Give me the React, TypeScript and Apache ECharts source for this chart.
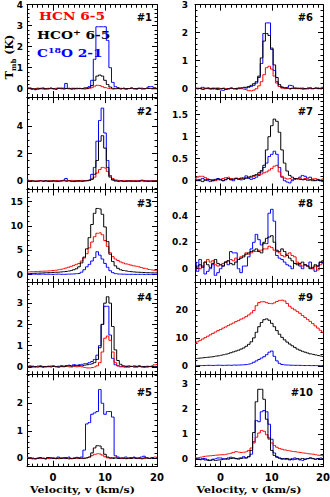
import React, { useEffect, useRef } from "react";
import * as echarts from "echarts";

// ---------------- data ----------------
const VELOCITY = [
  -5, -4.5, -4, -3.5, -3, -2.5, -2, -1.5, -1, -0.5,
  0, 0.5, 1, 1.5, 2, 2.5, 3, 3.5, 4, 4.5,
  5, 5.5, 6, 6.5, 7, 7.5, 8, 8.5, 9, 9.5,
  10, 10.5, 11, 11.5, 12, 12.5, 13, 13.5, 14, 14.5,
  15, 15.5, 16, 16.5, 17, 17.5, 18, 18.5, 19, 19.5,
  20,
];

const P1_HCN = [0.02,0.0,-0.02,0.01,0.03,0.0,-0.02,0.01,0.02,0.0, -0.01,0.02,0.03,0.0,-0.02,0.01,0.0,0.02,-0.01,0.0, 0.01,0.0,-0.02,0.0,0.02,0.05,0.12,0.16,0.15,0.1, 0.05,0.02,0.0,-0.02,0.01,0.0,0.02,0.0,-0.01,0.01, 0.02,0.0,-0.02,0.01,0.03,0.0,0.01,0.02,0.0,-0.01, 0.0];
const P1_HCO = [0.0,0.03,0.01,-0.02,0.0,0.02,0.03,0.0,-0.01,0.02, 0.0,-0.02,0.01,0.03,0.0,0.01,0.02,-0.01,0.0,0.02, 0.0,0.01,0.03,0.02,0.05,0.15,0.4,0.6,0.65,0.6, 0.4,0.2,0.08,0.02,0.0,0.01,-0.01,0.02,0.0,0.01, 0.03,0.0,0.01,0.02,-0.01,0.0,0.02,0.01,0.0,0.02, 0.01];
const P1_C18O = [0.05,0.02,-0.03,-0.05,-0.03,0.0,0.02,-0.02,0.0,0.03, 0.0,-0.03,0.02,0.0,0.03,0.25,0.0,-0.02,0.02,0.0, 0.02,0.0,0.03,0.05,0.1,0.4,1.4,2.95,2.95,2.95, 2.95,2.3,1.0,0.3,0.1,0.05,0.0,0.02,-0.02,0.0, 0.03,0.0,-0.02,0.02,0.0,0.0,0.03,0.1,0.1,0.05, 0.0];

const P2_HCN = [0.1,0.05,0.02,0.0,0.03,0.05,0.02,0.0,0.03,0.05, 0.03,0.05,0.02,0.04,0.05,0.03,0.05,0.06,0.04,0.05, 0.05,0.06,0.05,0.06,0.08,0.15,0.3,0.6,0.85,1.0, 0.95,0.7,0.4,0.2,0.1,0.06,0.04,0.05,0.03,0.04, 0.05,0.03,0.04,0.02,0.05,0.03,0.04,0.02,0.03,0.04, 0.03];
const P2_HCO = [0.02,0.0,0.03,0.01,-0.01,0.02,0.0,0.03,0.01,0.0, 0.02,0.0,-0.02,0.01,0.03,0.0,0.02,-0.01,0.0,0.02, 0.01,0.0,0.02,0.03,0.05,0.15,0.5,1.5,2.9,3.3, 2.4,1.0,0.3,0.1,0.03,0.0,0.02,-0.01,0.0,0.02, 0.0,0.01,-0.02,0.0,0.02,0.0,-0.01,0.01,0.0,0.02, 0.0];
const P2_C18O = [0.05,0.03,0.0,-0.02,0.02,0.05,0.0,0.03,-0.02,0.0, 0.02,0.0,0.03,0.05,0.08,0.2,0.05,0.0,-0.03,0.0, 0.02,0.0,0.03,0.05,0.1,0.5,1.0,2.9,4.4,5.3, 3.5,1.5,0.4,0.1,0.02,0.0,0.03,-0.02,0.02,0.0, 0.02,0.0,0.03,0.05,0.08,0.05,0.02,0.0,0.03,0.0, 0.02];

const P3_HCN = [0.55,0.58,0.6,0.62,0.65,0.68,0.7,0.72,0.75,0.8, 0.85,0.9,1.0,1.1,1.2,1.35,1.5,1.7,1.9,2.1, 2.3,2.8,3.4,4.3,5.5,6.7,7.8,8.5,8.6,8.2, 7.0,5.8,4.5,3.7,3.2,2.9,2.6,2.4,2.2,2.1, 1.95,1.8,1.7,1.6,1.45,1.3,1.2,1.05,0.95,0.85, 0.75];
const P3_HCO = [0.2,0.22,0.25,0.28,0.3,0.32,0.35,0.38,0.4,0.42, 0.45,0.48,0.5,0.55,0.6,0.65,0.75,0.85,1.0,1.2, 1.6,2.4,3.6,5.3,7.6,10.3,12.6,13.6,13.5,12.4, 9.8,6.8,4.2,2.7,1.8,1.3,1.0,0.85,0.75,0.65, 0.6,0.55,0.5,0.48,0.45,0.42,0.4,0.38,0.36,0.35, 0.35];
const P3_C18O = [0.1,0.05,0.08,0.1,0.05,0.08,0.1,0.05,0.08,0.06, 0.05,0.08,0.1,0.06,0.05,0.08,0.1,0.12,0.15,0.2, 0.25,0.5,1.0,1.6,2.1,2.8,3.5,4.7,4.0,3.2, 2.3,1.5,0.8,0.4,0.2,0.12,0.1,0.08,0.06,0.05, 0.06,0.05,0.04,0.05,0.06,0.04,0.05,0.03,0.05,0.04, 0.05];

const P4_HCN = [0.0,0.02,-0.02,0.0,0.03,0.0,-0.03,0.02,0.0,0.01, 0.02,0.0,-0.02,0.01,0.0,0.03,0.0,-0.01,0.02,0.0, 0.02,0.0,-0.03,-0.05,-0.05,-0.03,0.0,0.05,0.2,0.7, 1.35,1.45,1.25,0.7,0.2,0.05,0.0,0.02,-0.02,0.0, 0.02,0.0,-0.02,0.01,0.0,-0.03,0.0,0.02,0.05,0.1, 0.12];
const P4_HCO = [0.02,0.0,0.03,0.01,-0.01,0.02,0.0,0.01,0.03,0.0, 0.02,0.01,0.0,0.03,0.02,0.04,0.05,0.03,0.06,0.05, 0.07,0.05,0.08,0.1,0.12,0.15,0.2,0.35,0.9,2.0, 3.0,3.3,3.0,1.9,0.8,0.3,0.12,0.05,0.02,0.0, 0.02,0.0,0.01,0.03,0.0,0.02,0.0,0.01,0.02,0.0, 0.02];
const P4_C18O = [0.03,0.05,0.02,0.0,0.03,0.05,0.02,0.0,0.02,0.04, 0.05,0.02,0.03,0.05,0.04,0.06,0.08,0.05,0.1,0.08, 0.1,0.12,0.15,0.15,0.2,0.25,0.35,0.55,1.0,2.0, 2.85,2.85,1.5,0.4,0.1,0.05,0.02,0.0,0.03,0.05, 0.02,0.05,0.03,0.05,0.02,0.0,0.03,0.02,0.0,0.02, 0.0];

const P5_HCN = [0.02,0.0,-0.02,0.0,0.02,0.01,0.0,-0.02,0.0,0.02, 0.0,0.01,-0.01,0.0,0.02,0.0,-0.02,0.0,0.01,0.0, 0.02,0.0,0.02,0.03,0.05,0.1,0.15,0.17,0.16,0.12, 0.06,0.02,0.0,0.03,0.05,0.02,0.0,0.02,0.0,0.01, 0.0,0.02,0.03,0.0,-0.02,0.0,0.02,0.0,0.03,0.05, 0.04];
const P5_HCO = [0.0,0.02,0.01,-0.01,0.0,0.02,0.01,0.0,0.03,0.02, 0.0,-0.01,0.01,0.0,0.02,0.0,0.01,-0.01,0.0,0.02, 0.0,0.01,0.0,0.02,0.05,0.2,0.38,0.46,0.45,0.35, 0.15,0.05,0.02,0.0,0.01,0.0,0.02,0.0,-0.01,0.01, 0.0,0.02,0.0,0.01,0.0,0.02,0.01,0.0,0.02,0.0, 0.01];
const P5_C18O = [0.05,0.02,0.0,-0.02,0.0,0.03,0.0,-0.02,0.02,0.0, 0.02,0.0,0.05,0.02,0.0,0.03,0.05,0.0,0.02,0.04, 0.02,0.05,0.3,1.25,1.3,1.6,1.65,1.7,2.5,2.0, 1.6,1.7,1.7,1.5,0.1,0.05,0.0,0.02,0.05,0.0, 0.03,0.05,0.0,0.02,0.05,0.08,0.03,0.0,0.02,0.0, 0.02];

const P6_HCN = [0.0,0.02,0.0,-0.02,0.01,0.03,0.0,-0.01,0.02,0.0, 0.01,0.02,0.0,-0.01,0.02,0.0,0.01,0.03,0.0,-0.02, -0.04,-0.07,-0.08,-0.05,0.0,0.1,0.25,0.5,0.75,0.8, 0.7,0.45,0.2,0.08,0.02,0.0,0.01,-0.01,0.02,0.0, 0.01,0.0,0.02,0.0,-0.01,0.02,0.0,0.01,0.03,0.0, 0.02];
const P6_HCO = [0.02,0.0,0.01,-0.02,0.0,0.02,0.01,0.0,-0.01,0.02, 0.0,0.01,-0.02,0.0,0.02,0.0,0.01,0.02,0.03,0.05, 0.05,0.08,0.12,0.18,0.25,0.45,1.1,1.7,1.97,1.9, 1.45,0.85,0.4,0.15,0.06,0.03,0.02,0.0,0.01,0.02, 0.0,0.02,0.01,0.0,0.02,0.03,0.0,0.02,0.01,0.0, 0.02];
const P6_C18O = [0.03,0.0,0.02,0.05,0.02,0.0,-0.02,0.02,0.0,-0.03, -0.05,-0.06,-0.03,0.0,0.02,0.0,-0.02,0.0,0.02,0.03, 0.02,0.05,0.08,0.12,0.2,0.4,0.9,1.97,2.35,2.35, 1.4,0.65,0.25,0.08,0.05,0.03,0.05,0.12,0.1,0.02, 0.02,0.0,-0.02,0.0,0.02,0.0,0.01,0.03,0.0,0.02, 0.05];

const P7_HCN = [0.05,0.08,0.1,0.1,0.07,0.04,0.02,0.03,0.0,0.02, 0.03,0.05,0.07,0.08,0.05,0.03,0.06,0.05,0.04,0.07, 0.06,0.08,0.07,0.1,0.12,0.14,0.15,0.18,0.2,0.24, 0.28,0.33,0.35,0.2,0.1,0.06,0.04,0.05,0.03,0.05, 0.04,0.06,0.03,0.05,0.04,0.02,0.04,0.05,0.03,0.02, 0.04];
const P7_HCO = [0.0,0.02,0.0,-0.02,0.01,0.03,0.02,0.0,0.02,0.04, 0.02,0.0,0.03,0.05,0.02,0.04,0.05,0.03,0.06,0.05, 0.06,0.08,0.1,0.12,0.14,0.18,0.23,0.35,0.7,1.0, 1.25,1.4,1.35,1.1,0.7,0.4,0.22,0.12,0.08,0.05, 0.04,0.03,0.02,0.03,0.01,0.02,0.0,0.01,0.02,0.0, 0.01];
const P7_C18O = [0.02,0.0,0.03,0.05,0.02,0.0,-0.02,0.0,0.03,0.05, 0.03,0.0,0.02,0.05,0.03,0.0,0.05,0.04,0.02,0.03, 0.11,0.05,0.03,0.05,0.08,0.12,0.2,0.3,0.4,0.55, 0.6,0.67,0.6,0.3,0.08,0.0,-0.03,-0.05,0.0,0.03, 0.05,0.08,0.12,0.1,0.06,0.08,0.03,0.0,0.02,0.0, -0.02];

const P8_HCN = [0.0,0.01,0.0,0.02,0.05,0.07,0.05,0.06,0.03,0.02, 0.03,0.04,0.05,0.06,0.07,0.06,0.08,0.07,0.09,0.1, 0.12,0.11,0.12,0.13,0.13,0.14,0.14,0.15,0.15,0.17, 0.16,0.14,0.13,0.12,0.1,0.09,0.11,0.12,0.1,0.09, 0.05,0.03,0.02,0.03,0.02,0.01,0.0,0.02,-0.01,0.03, 0.04];
const P8_HCO = [0.0,0.02,0.03,0.01,0.05,0.03,0.01,0.04,0.07,0.04, 0.03,0.02,0.05,0.06,0.04,0.03,0.05,0.07,0.08,0.09, 0.11,0.12,0.13,0.14,0.15,0.13,0.12,0.2,0.23,0.24, 0.25,0.2,0.14,0.13,0.15,0.13,0.1,0.08,0.06,0.04, 0.03,0.04,0.05,0.03,0.02,0.0,0.01,0.03,0.02,0.05, 0.06];
const P8_C18O = [0.05,-0.02,0.07,0.02,-0.04,-0.02,0.0,0.03,-0.05,-0.03, 0.0,0.02,0.05,0.03,0.13,0.12,0.12,0.0,-0.03,0.02, 0.02,0.09,0.15,0.2,0.26,0.22,0.18,0.19,0.19,0.42, 0.45,0.36,0.1,0.08,0.07,0.05,0.03,0.02,0.0,0.04, 0.04,0.02,0.0,0.03,0.02,0.05,0.0,-0.02,0.02,0.05, 0.05];

const P9_HCN = [8.0,8.6,9.1,9.6,10.1,10.6,11.1,11.6,12.1,12.6, 13.0,13.5,13.9,14.4,14.9,15.3,15.8,16.2,16.7,17.1, 17.6,18.2,18.9,19.8,21.5,22.6,22.9,22.9,22.6,22.3, 22.2,22.5,23.0,23.4,23.5,23.2,22.3,21.3,20.6,20.0, 19.4,18.8,18.0,17.3,16.6,15.9,15.1,14.3,13.5,12.7, 12.0];
const P9_HCO = [2.6,2.7,2.8,2.9,3.0,3.1,3.2,3.3,3.5,3.6, 3.8,4.0,4.2,4.4,4.7,5.0,5.3,5.6,6.0,6.4, 7.0,7.7,8.6,10.0,12.0,14.0,15.5,16.5,16.8,16.3, 15.2,14.0,12.6,11.3,10.2,9.3,8.5,7.8,7.2,6.6, 6.0,5.6,5.2,4.9,4.6,4.3,4.1,3.9,3.7,3.5, 3.3];
const P9_C18O = [0.2,0.15,0.1,0.12,0.15,0.2,0.18,0.15,0.2,0.25, 0.2,0.18,0.22,0.25,0.2,0.3,0.28,0.3,0.35,0.4, 0.5,0.65,0.9,1.3,1.8,2.3,2.8,3.3,4.0,4.9, 5.3,3.4,1.8,0.9,0.5,0.35,0.3,0.25,0.22,0.2, 0.2,0.18,0.15,0.12,0.15,0.1,0.12,0.1,0.08,0.1, 0.1];

const P10_HCN = [0.05,0.06,0.08,0.1,0.12,0.13,0.14,0.15,0.16,0.17, 0.18,0.18,0.2,0.22,0.24,0.27,0.3,0.28,0.27,0.28, 0.3,0.35,0.45,0.65,0.88,1.05,1.15,1.12,0.98,0.8, 0.65,0.55,0.48,0.43,0.4,0.37,0.35,0.33,0.31,0.3, 0.28,0.27,0.25,0.24,0.22,0.21,0.2,0.18,0.16,0.15, 0.13];
const P10_HCO = [0.02,0.0,-0.02,0.0,-0.03,-0.05,-0.04,-0.02,-0.05,-0.03, -0.02,0.0,0.02,0.0,0.03,0.05,0.02,0.04,0.03,0.05, 0.05,0.1,0.35,1.07,2.3,2.8,2.8,2.4,1.6,0.85, 0.35,0.15,0.08,0.04,0.02,0.0,0.03,0.0,-0.02,0.0, 0.02,0.0,0.03,0.0,0.02,0.05,0.03,0.0,0.02,0.0, 0.02];
const P10_C18O = [0.05,0.02,0.0,0.03,0.02,-0.02,-0.05,0.0,0.02,0.05, 0.05,0.02,0.0,0.05,0.08,0.05,0.03,0.0,0.05,0.1, 0.05,0.1,0.2,0.7,1.55,1.5,1.9,1.95,1.9,1.4, 0.8,0.25,0.1,0.05,0.0,0.03,0.0,-0.03,0.02,0.05, 0.02,-0.03,-0.05,0.0,0.03,0.05,0.02,0.0,0.03,0.05, 0.02];

const HCN = [P1_HCN, P2_HCN, P3_HCN, P4_HCN, P5_HCN, P6_HCN, P7_HCN, P8_HCN, P9_HCN, P10_HCN];
const HCO = [P1_HCO, P2_HCO, P3_HCO, P4_HCO, P5_HCO, P6_HCO, P7_HCO, P8_HCO, P9_HCO, P10_HCO];
const C18O = [P1_C18O, P2_C18O, P3_C18O, P4_C18O, P5_C18O, P6_C18O, P7_C18O, P8_C18O, P9_C18O, P10_C18O];

const PANEL_NAMES = ["#1", "#2", "#3", "#4", "#5", "#6", "#7", "#8", "#9", "#10"];
const X_TICK_LABELS = [0, 10, 20];
const Y_MIN = [-0.4, -0.6, -1.5, -0.35, -0.3, -0.3, -0.2, -0.1, -3, -0.3];
const Y_MAX = [4, 6.1, 17.5, 4, 3.05, 3, 1.9, 0.6, 30, 3.4];
const Y_TICK_LABELS = [
  [0, 1, 2, 3, 4], [0, 2, 4], [0, 5, 10, 15], [0, 1, 2, 3], [0, 1, 2],
  [0, 1, 2, 3], [0, 0.5, 1, 1.5], [0, 0.2, 0.4], [0, 10, 20], [0, 1, 2, 3],
];
const Y_MINOR_STEP = [0.2, 0.5, 1, 0.2, 0.2, 0.2, 0.1, 0.05, 2, 0.2];

// ---------------- layout ----------------
const COL_LEFT = [27, 195];
const COL_WIDTH = [130, 128];
const ROW_TOP0 = 4.7;
const ROW_H = 92.4;
const NAME_DY = [12.5, 14, 13.5, 16, 18];
const NAME_RIGHT = [152, 313];
const Y_LABEL_MARGIN = [4, 7];

function steps(min: number, max: number, step: number) {
  const out: number[] = [];
  const start = Math.ceil(min / step - 1e-9);
  for (let k = start; k * step <= max + 1e-9; k++) out.push(+(k * step).toFixed(4));
  return out;
}

const TICK_FONT = { fontFamily: "DejaVu Sans", fontWeight: "bold" as const, color: "#000" };
const SERIF = "DejaVu Serif";

export default function App() {
  const ref = useRef<HTMLDivElement>(null);
  useEffect(() => {
    document.body.style.margin = "0";
    if (!ref.current) return;
    const chart = echarts.init(ref.current, undefined, { renderer: "svg" });
    const grids: any[] = [];
    const xAxes: any[] = [];
    const yAxes: any[] = [];
    const series: any[] = [];
    const graphics: any[] = [];
    const xMinor = steps(-5, 20, 1);

    for (let i = 0; i < 10; i++) {
      const col = i < 5 ? 0 : 1;
      const row = i % 5;
      const top = ROW_TOP0 + row * ROW_H;
      grids.push({
        left: COL_LEFT[col], top, width: COL_WIDTH[col], height: ROW_H,
        containLabel: false, outerBoundsMode: "none",
      });
      const yMinor = steps(Y_MIN[i], Y_MAX[i], Y_MINOR_STEP[i]);
      const line = { show: true, onZero: false, lineStyle: { color: "#000", width: 1 } };
      for (const pos of ["bottom", "top"]) {
        xAxes.push({
          type: "value", gridIndex: i, position: pos, min: -5, max: 20,
          axisLine: line,
          axisTick: { show: true, inside: true, length: 6, customValues: X_TICK_LABELS, lineStyle: { color: "#000", width: 1 } },
          axisLabel: {
            show: pos === "bottom" && row === 4, customValues: X_TICK_LABELS,
            fontSize: 10, margin: 6, ...TICK_FONT,
          },
          splitLine: { show: false },
        });
        xAxes.push({
          type: "value", gridIndex: i, position: pos, min: -5, max: 20,
          axisLine: { show: false, onZero: false },
          axisTick: { show: true, inside: true, length: 3, customValues: xMinor, lineStyle: { color: "#000", width: 1 } },
          axisLabel: { show: false },
          splitLine: { show: false },
        });
      }
      for (const pos of ["left", "right"]) {
        yAxes.push({
          type: "value", gridIndex: i, position: pos, min: Y_MIN[i], max: Y_MAX[i],
          axisLine: line,
          axisTick: { show: true, inside: true, length: 5, customValues: Y_TICK_LABELS[i], lineStyle: { color: "#000", width: 1 } },
          axisLabel: {
            show: pos === "left", customValues: Y_TICK_LABELS[i],
            fontSize: 9, margin: Y_LABEL_MARGIN[col], ...TICK_FONT,
            formatter: (v: number) => String(v),
          },
          splitLine: { show: false },
        });
        yAxes.push({
          type: "value", gridIndex: i, position: pos, min: Y_MIN[i], max: Y_MAX[i],
          axisLine: { show: false, onZero: false },
          axisTick: { show: true, inside: true, length: 2.5, customValues: yMinor, lineStyle: { color: "#000", width: 1 } },
          axisLabel: { show: false },
          splitLine: { show: false },
        });
      }
      const specs: [number[], string][] = [
        [C18O[i], "#0000ff"],
        [HCN[i], "#ff0000"],
        [HCO[i], "#000000"],
      ];
      for (const [vals, color] of specs) {
        series.push({
          type: "line", xAxisIndex: 4 * i, yAxisIndex: 4 * i,
          data: VELOCITY.map((v, k) => [v, vals[k]]),
          step: "middle", symbol: "none", showSymbol: false, silent: true,
          lineStyle: { color, width: 1 }, clip: true,
        });
      }
      graphics.push({
        type: "text", x: NAME_RIGHT[col], y: top + NAME_DY[row], silent: true,
        style: {
          text: PANEL_NAMES[i], fill: "#000", align: "right", verticalAlign: "middle",
          fontFamily: "DejaVu Sans", fontWeight: "bold", fontSize: 10,
        },
      });
    }

    const legendRich = (color: string) => ({
      a: { fontFamily: SERIF, fontWeight: "bold", fontSize: 11, fill: color, lineHeight: 14 },
      s: { fontFamily: SERIF, fontWeight: "bold", fontSize: 7.5, fill: color, verticalAlign: "top", lineHeight: 14 },
    });
    const LEGEND_SCALE = 1.25;
    graphics.push(
      { type: "text", x: 39, y: 16, scaleX: LEGEND_SCALE, silent: true,
        style: { text: "{a|HCN 6-5}", rich: legendRich("#ff0000"), verticalAlign: "middle", align: "left" } },
      { type: "text", x: 37, y: 35, scaleX: LEGEND_SCALE, silent: true,
        style: { text: "{a|HCO}{s|+}{a| 6-5}", rich: legendRich("#000000"), verticalAlign: "middle", align: "left" } },
      { type: "text", x: 37, y: 53, scaleX: LEGEND_SCALE, silent: true,
        style: { text: "{a|C}{s|18}{a|O 2-1}", rich: legendRich("#0000ff"), verticalAlign: "middle", align: "left" } },
      { type: "text", x: 9.5, y: 57, rotation: Math.PI / 2, silent: true,
        style: {
          text: "{a|T}{b|mb}{a| (K)}", align: "center", verticalAlign: "middle",
          rich: {
            a: { fontFamily: SERIF, fontWeight: "bold", fontSize: 11, fill: "#000", lineHeight: 14 },
            b: { fontFamily: SERIF, fontWeight: "bold", fontSize: 7, fill: "#000", verticalAlign: "bottom", lineHeight: 14 },
          },
        } },
      { type: "text", x: 82.5, y: 489, scaleX: 1.1, silent: true,
        style: { text: "Velocity, v (km/s)", align: "center", verticalAlign: "middle", fill: "#000", fontFamily: SERIF, fontWeight: "bold", fontSize: 10 } },
      { type: "text", x: 249, y: 489, scaleX: 1.1, silent: true,
        style: { text: "Velocity, v (km/s)", align: "center", verticalAlign: "middle", fill: "#000", fontFamily: SERIF, fontWeight: "bold", fontSize: 10 } },
    );

    chart.setOption({
      animation: false,
      backgroundColor: "#ffffff",
      grid: grids,
      xAxis: xAxes,
      yAxis: yAxes,
      series,
      graphic: graphics,
    });
    return () => chart.dispose();
  }, []);
  return <div ref={ref} style={{ width: 330, height: 497 }} />;
}
